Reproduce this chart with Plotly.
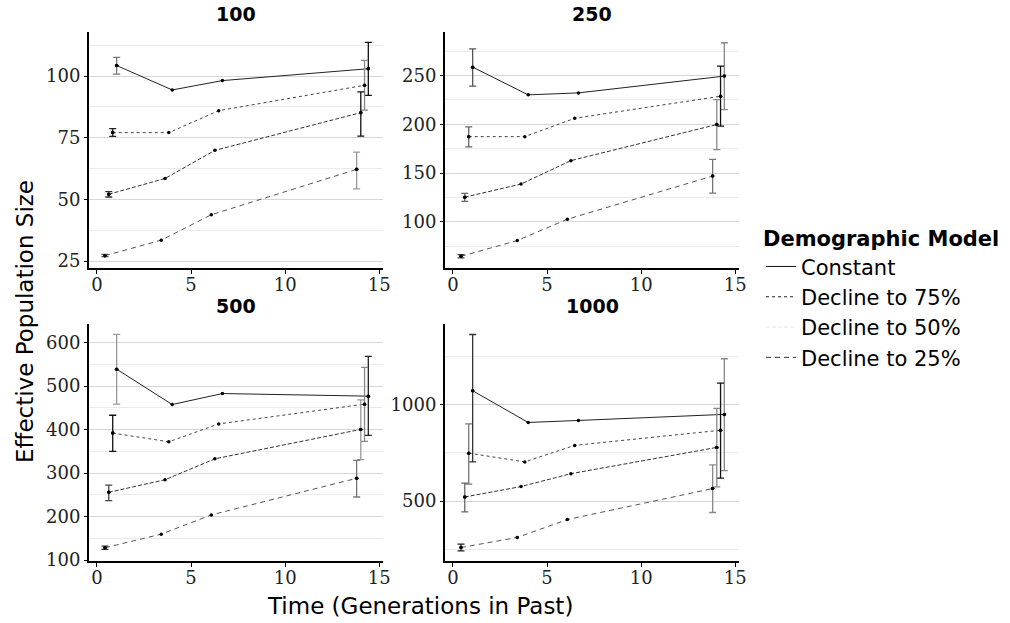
import plotly.graph_objects as go

W, H = 1010, 623

# ---------------- data ----------------
PANELS = ["100", "250", "500", "1000"]
SERIES = ["Constant", "Decline to 75%", "Decline to 50%", "Decline to 25%"]

# time points (generations in past), dodged per series
TIME_CONSTANT = [1.05, 4.00, 6.67, 14.42]
TIME_75 = [0.84, 3.82, 6.47, 14.22]
TIME_50 = [0.63, 3.62, 6.27, 14.02]
TIME_25 = [0.43, 3.42, 6.08, 13.80]

# effective population size estimates
NE_100 = {
    "Constant": [104.3, 94.4, 98.2, 103.0],
    "Decline to 75%": [77.1, 77.1, 86.0, 96.3],
    "Decline to 50%": [52.1, 58.5, 69.9, 85.2],
    "Decline to 25%": [27.2, 33.5, 43.8, 62.2],
}
NE_250 = {
    "Constant": [258.5, 230.1, 232.1, 249.3],
    "Decline to 75%": [187.3, 187.3, 206.1, 228.7],
    "Decline to 50%": [125.3, 138.7, 162.7, 199.7],
    "Decline to 25%": [64.7, 80.8, 102.7, 146.9],
}
NE_500 = {
    "Constant": [539.0, 457.7, 483.0, 477.0],
    "Decline to 75%": [392.0, 372.0, 413.0, 458.6],
    "Decline to 50%": [255.7, 284.7, 332.8, 400.5],
    "Decline to 25%": [128.2, 159.5, 203.8, 288.0],
}
NE_1000 = {
    "Constant": [1071.7, 907.4, 917.8, 949.3],
    "Decline to 75%": [748.3, 702.8, 788.5, 867.0],
    "Decline to 50%": [521.0, 575.0, 641.7, 778.0],
    "Decline to 25%": [258.8, 311.0, 403.9, 564.8],
}

# confidence intervals (lower, upper) for first and last time points
CI_100 = {
    "Constant": [(100.8, 107.6), (92.2, 113.7)],
    "Decline to 75%": [(75.6, 78.7), (86.2, 106.4)],
    "Decline to 50%": [(51.0, 53.2), (75.7, 93.6)],
    "Decline to 25%": [(26.8, 27.7), (54.3, 69.2)],
}
CI_250 = {
    "Constant": [(239.0, 277.3), (215.0, 283.5)],
    "Decline to 75%": [(176.7, 197.2), (198.0, 259.6)],
    "Decline to 50%": [(120.9, 129.2), (174.0, 225.3)],
    "Decline to 25%": [(63.0, 66.5), (129.4, 164.0)],
}
CI_500 = {
    "Constant": [(458.5, 619.0), (386.7, 568.7)],
    "Decline to 75%": [(350.0, 433.0), (373.0, 543.4)],
    "Decline to 50%": [(236.6, 272.5), (331.0, 468.5)],
    "Decline to 25%": [(124.5, 132.0), (245.0, 329.4)],
}
CI_1000 = {
    "Constant": [(702.8, 1363.6), (657.4, 1237.7)],
    "Decline to 75%": [(587.5, 900.4), (619.0, 1111.9)],
    "Decline to 50%": [(444.0, 592.7), (573.5, 980.8)],
    "Decline to 25%": [(241.0, 276.0), (440.6, 687.0)],
}

TIMES = {"Constant": TIME_CONSTANT, "Decline to 75%": TIME_75,
         "Decline to 50%": TIME_50, "Decline to 25%": TIME_25}
NE = {"100": NE_100, "250": NE_250, "500": NE_500, "1000": NE_1000}
CI = {"100": CI_100, "250": CI_250, "500": CI_500, "1000": CI_1000}

# ---------------- styles ----------------
LINE_DASH = {"Constant": "solid", "Decline to 75%": "dot",
             "Decline to 50%": "4px,2px", "Decline to 25%": "5px,4px"}
LINE_COLOR = {"Constant": "#222222", "Decline to 75%": "#444444",
              "Decline to 50%": "#333333", "Decline to 25%": "#555555"}
LEGEND_COLOR = {"Constant": "#111111", "Decline to 75%": "#222222",
                "Decline to 50%": "#e6e6e6", "Decline to 25%": "#333333"}
# error bar colours per panel, per series: (first, last)
ERR_COLOR = {
    "100": {"Constant": ("#777777", "#111111"), "Decline to 75%": ("#222222", "#888888"),
            "Decline to 50%": ("#333333", "#111111"), "Decline to 25%": ("#555555", "#999999")},
    "250": {"Constant": ("#555555", "#888888"), "Decline to 75%": ("#666666", "#111111"),
            "Decline to 50%": ("#666666", "#888888"), "Decline to 25%": ("#444444", "#777777")},
    "500": {"Constant": ("#999999", "#222222"), "Decline to 75%": ("#111111", "#888888"),
            "Decline to 50%": ("#444444", "#999999"), "Decline to 25%": ("#333333", "#777777")},
    "1000": {"Constant": ("#333333", "#888888"), "Decline to 75%": ("#777777", "#111111"),
             "Decline to 50%": ("#666666", "#888888"), "Decline to 25%": ("#222222", "#888888")},
}

# panel boxes in pixels: (left, right, top, bottom)
BOX = {"100": (89, 383, 32, 268), "250": (445, 739, 32, 268),
       "500": (89, 383, 324, 561), "1000": (445, 739, 324, 561)}
YRANGE = {"100": (22.2, 117.9), "250": (52.7, 294.5),
          "500": (97.7, 643.0), "1000": (189.0, 1418.0)}
YDTICK = {"100": 25, "250": 50, "500": 100, "1000": 500}

fig = go.Figure()

SERIF = "DejaVu Serif"
SANS = "DejaVu Sans"

layout = dict(
    width=W, height=H, paper_bgcolor="white", plot_bgcolor="white",
    margin=dict(l=0, r=0, t=0, b=0, autoexpand=False),
    showlegend=True,
    annotations=[],
)

for i, p in enumerate(PANELS, start=1):
    xa = "x" if i == 1 else f"x{i}"
    ya = "y" if i == 1 else f"y{i}"
    l, r, t, b = BOX[p]
    layout[f"xaxis{'' if i == 1 else i}"] = dict(
        domain=[l / W, r / W], anchor=ya, range=[-0.42, 15.2],
        tickvals=[0, 5, 10, 15], showgrid=False, zeroline=False,
        showline=True, linecolor="black", linewidth=2,
        ticks="outside", ticklen=4, tickcolor="black", tickwidth=1,
        ticklabelstandoff=-5,
        tickfont=dict(family=SERIF, size=18, color="#222222"),
        automargin=False,
    )
    layout[f"yaxis{'' if i == 1 else i}"] = dict(
        domain=[1 - b / H, 1 - t / H], anchor=xa, range=list(YRANGE[p]),
        tick0=0, dtick=YDTICK[p], showgrid=True, gridcolor="#d6d6d6", gridwidth=1,
        minor=dict(tick0=0, dtick=YDTICK[p] / 2, showgrid=True,
                   gridcolor="#ebebeb", gridwidth=1),
        zeroline=False, showline=True, linecolor="black", linewidth=2,
        ticks="outside", ticklen=3, tickcolor="black", tickwidth=1,
        tickfont=dict(family=SERIF, size=18, color="#222222"),
        automargin=False,
    )
    layout["annotations"].append(dict(
        text=f"<b>{p}</b>", x=(l + r) / 2 / W, y=1 - (t - 18) / H,
        xref="paper", yref="paper", showarrow=False, xanchor="center", yanchor="middle",
        font=dict(family=SANS, size=19, color="black"),
    ))

    for s in SERIES:
        xs = TIMES[s]
        ys = NE[p][s]
        fig.add_trace(go.Scatter(
            x=xs, y=ys, mode="lines+markers", xaxis=xa, yaxis=ya, showlegend=False,
            line=dict(color=LINE_COLOR[s], width=1, dash=LINE_DASH[s]),
            marker=dict(color="black", size=3.5),
            hoverinfo="skip",
        ))
        for k, idx in enumerate([0, len(xs) - 1]):
            lo, hi = CI[p][s][k]
            fig.add_trace(go.Scatter(
                x=[xs[idx]], y=[ys[idx]], mode="markers", xaxis=xa, yaxis=ya,
                showlegend=False, marker=dict(color="black", size=3.5),
                error_y=dict(type="data", symmetric=False,
                             array=[hi - ys[idx]], arrayminus=[ys[idx] - lo],
                             color=ERR_COLOR[p][s][k], thickness=1.3, width=3.5),
                hoverinfo="skip",
            ))

# legend keys
for s in SERIES:
    fig.add_trace(go.Scatter(
        x=[None], y=[None], mode="lines", name=s,
        line=dict(color=LEGEND_COLOR[s], width=1, dash=LINE_DASH[s]),
    ))

layout["legend"] = dict(
    x=761 / W, y=1 - 219 / H, xanchor="left", yanchor="top",
    title=dict(text="<b>Demographic Model</b>", font=dict(family=SANS, size=21, color="black")),
    font=dict(family=SANS, size=21, color="black"),
    bgcolor="rgba(0,0,0,0)", itemwidth=30, tracegroupgap=0,
)

layout["annotations"] += [
    dict(text="Effective Population Size", x=25 / W, y=1 - 322 / H, xref="paper", yref="paper",
         showarrow=False, textangle=-90, xanchor="center", yanchor="middle",
         font=dict(family=SANS, size=23, color="black")),
    dict(text="Time (Generations in Past)", x=420 / W, y=1 - 606 / H, xref="paper", yref="paper",
         showarrow=False, xanchor="center", yanchor="middle",
         font=dict(family=SANS, size=23, color="black")),
]

fig.update_layout(**layout)
fig.write_html("out.html", config={"displayModeBar": False},
               post_script="document.body.style.margin='0';document.body.style.padding='0';")
